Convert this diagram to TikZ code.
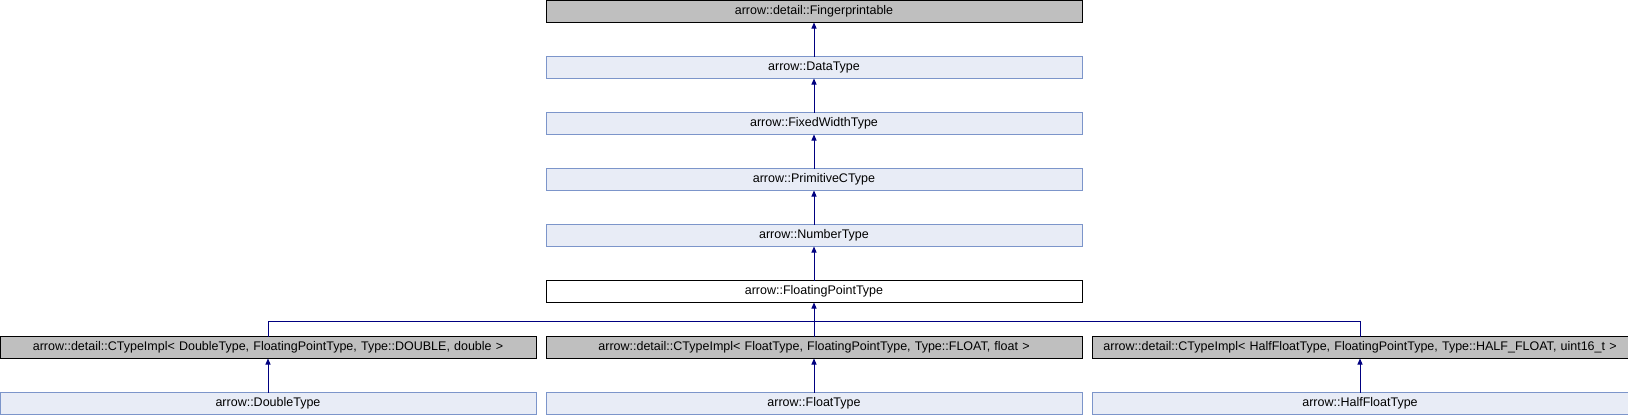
\documentclass[tikz,border=0pt]{standalone}
\usepackage{fontspec}
\setmainfont{Liberation Sans}
\usetikzlibrary{arrows.meta, positioning, calc}
\definecolor{doccol}{HTML}{E8ECF6}
\definecolor{docline}{HTML}{7C95CA}
\definecolor{undoccol}{HTML}{BFBFBF}
\definecolor{inhcol}{HTML}{000080}

\begin{document}
\begin{tikzpicture}[
    x=1pt, y=1pt,
    node distance=34pt and 10pt,
    every node/.style={font=\fontsize{12.5}{15}\selectfont},
    clsbox/.style={
        draw, text width=536pt, align=center, minimum height=22pt,
        inner sep=0pt, outer sep=0pt, line width=1pt
    },
    docbox/.style={clsbox, fill=doccol, draw=docline},
    undocbox/.style={clsbox, fill=undoccol, draw=black},
    curbox/.style={clsbox, fill=white, draw=black},
    inh/.style={-{Triangle[length=6pt, width=5pt]}, line width=1pt, color=inhcol},
    link/.style={line width=1pt, color=inhcol},
]
\useasboundingbox (0,0) rectangle (1628,-416);

% ===== Single chain of bases =====
\node[undocbox] (finger) at (814,-11.5) {arrow::detail::Fingerprintable};
\node[docbox, below=of finger] (datatype) {arrow::DataType};
\node[docbox, below=of datatype] (fixedw) {arrow::FixedWidthType};
\node[docbox, below=of fixedw] (primc) {arrow::PrimitiveCType};
\node[docbox, below=of primc] (number) {arrow::NumberType};
\node[curbox, below=of number] (fpt) {arrow::FloatingPointType};

% ===== CTypeImpl row =====
\node[undocbox, below=of fpt] (ctfloat)
     {arrow::detail::CTypeImpl< FloatType, FloatingPointType, Type::FLOAT, float >};
\node[undocbox, left=of ctfloat] (ctdouble)
     {arrow::detail::CTypeImpl< DoubleType, FloatingPointType, Type::DOUBLE, double >};
\node[undocbox, right=of ctfloat] (cthalf)
     {arrow::detail::CTypeImpl< HalfFloatType, FloatingPointType, Type::HALF\_FLOAT, uint16\_t >};

% ===== Leaf types =====
\node[docbox, below=of ctdouble] (double) {arrow::DoubleType};
\node[docbox, below=of ctfloat] (float) {arrow::FloatType};
\node[docbox, below=of cthalf] (half) {arrow::HalfFloatType};

% ===== ARROWS =====
\draw[inh] (datatype) -- (finger);
\draw[inh] (fixedw) -- (datatype);
\draw[inh] (primc) -- (fixedw);
\draw[inh] (number) -- (primc);
\draw[inh] (fpt) -- (number);

% Three CTypeImpl bases join below FloatingPointType
\coordinate (split) at ($(fpt.south)+(0,-19)$);
\draw[link] (ctdouble.north) |- (split) -| (cthalf.north);
\draw[inh] (ctfloat) -- (fpt);

\draw[inh] (double) -- (ctdouble);
\draw[inh] (float) -- (ctfloat);
\draw[inh] (half) -- (cthalf);

\end{tikzpicture}
\end{document}
